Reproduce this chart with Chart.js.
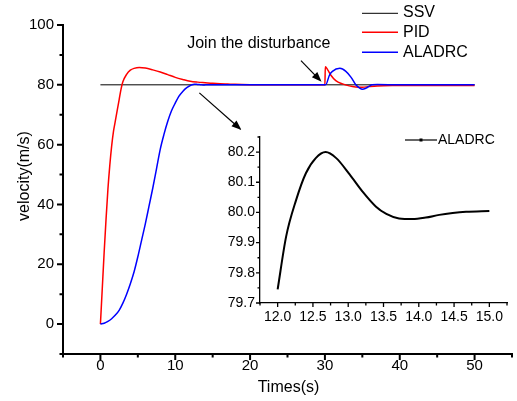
<!DOCTYPE html>
<html><head><meta charset="utf-8">
<script src="https://cdn.jsdelivr.net/npm/chart.js@4.4.0/dist/chart.umd.min.js"></script>
<style>
html,body{margin:0;padding:0;background:#fff;}
#wrap{position:relative;width:517px;height:401px;overflow:hidden;}
#main{position:absolute;left:0;top:0;}
#inset{position:absolute;left:200px;top:120px;}
</style></head><body>
<div id="wrap"><canvas id="main" width="517" height="401"></canvas><canvas id="inset" width="317" height="220"></canvas></div>
<script>
// ---------- DATA ----------
const seriesNames = ['SSV', 'PID', 'ALADRC'];
const ssvT = [0, 50];
const ssvV = [80, 80];
const pidT = [0, 0.25, 0.5, 0.75, 1.0, 1.25, 1.5, 1.75, 2.0, 2.25, 2.5, 2.75, 3.0, 3.5, 4.0, 4.5, 5.2, 6, 7, 8, 9, 10, 11, 12, 13, 14, 15, 16, 17, 18, 20, 22, 25, 30, 30.05, 30.35, 30.8, 31.45, 32.35, 33.25, 34.1, 35, 35.9, 37, 39, 42, 46, 50];
const pidV = [0, 12, 24, 35, 45, 53, 59.5, 64.5, 68, 71.5, 75, 78.5, 81, 83.5, 84.9, 85.5, 85.8, 85.6, 85.0, 84.3, 83.4, 82.5, 81.8, 81.2, 80.9, 80.7, 80.5, 80.35, 80.25, 80.15, 80.05, 80.02, 80, 80, 86, 85.1, 83.2, 81.4, 80.3, 79.65, 79.3, 79.2, 79.4, 79.6, 79.75, 79.8, 79.8, 79.8];
const aladrcT = [0, 0.5, 1, 1.5, 2, 2.5, 3, 3.5, 4, 4.5, 5, 5.5, 6, 6.5, 7, 7.5, 8, 8.5, 9, 9.5, 10, 10.5, 11, 11.5, 12, 12.12, 12.26, 12.4, 12.54, 12.68, 12.83, 13.02, 13.2, 13.39, 13.54, 13.72, 13.91, 14.1, 14.29, 14.48, 14.67, 15, 20, 30, 30.1, 30.6, 31, 32, 32.8, 33.5, 34.1, 34.6, 35, 35.5, 35.9, 36.3, 37, 40, 45, 50];
const aladrcV = [0, 0.3, 0.9, 1.8, 3, 4.6, 7, 10, 13.5, 17.5, 22.5, 28, 33.5, 39.5, 45.5, 52, 58.5, 63.5, 67.8, 71.3, 73.9, 76.2, 77.8, 79.0, 79.745, 79.92, 80.04, 80.13, 80.18, 80.2, 80.18, 80.126, 80.07, 80.02, 79.995, 79.98, 79.978, 79.983, 79.992, 79.998, 80.002, 80.005, 80, 80, 80, 83.2, 84.5, 85.5, 84.5, 82.5, 80.1, 79, 78.5, 78.9, 79.5, 80, 80.1, 80, 80, 80];
// inset (zoom of ALADRC, 12..15 s)
const insetName = 'ALADRC';
const insetT = [12.0, 12.12, 12.26, 12.4, 12.54, 12.68, 12.83, 13.02, 13.2, 13.39, 13.54, 13.72, 13.91, 14.1, 14.29, 14.48, 14.67, 15.0];
const insetV = [79.745, 79.92, 80.04, 80.13, 80.18, 80.2, 80.18, 80.126, 80.07, 80.02, 79.995, 79.98, 79.978, 79.983, 79.992, 79.998, 80.002, 80.005];
// ticks
const xTickValues = [0, 10, 20, 30, 40, 50];
const xTickLabels = ['0', '10', '20', '30', '40', '50'];
const xMinorTicks = [-5, 5, 15, 25, 35, 45, 55];
const yTickValues = [0, 20, 40, 60, 80, 100];
const yTickLabels = ['0', '20', '40', '60', '80', '100'];
const yMinorTicks = [-10, 10, 30, 50, 70, 90];
const ixTickValues = [12.0, 12.5, 13.0, 13.5, 14.0, 14.5, 15.0];
const ixTickLabels = ['12.0', '12.5', '13.0', '13.5', '14.0', '14.5', '15.0'];
const ixMinorTicks = [11.75, 12.25, 12.75, 13.25, 13.75, 14.25, 14.75, 15.25];
const iyTickValues = [79.7, 79.8, 79.9, 80.0, 80.1, 80.2];
const iyTickLabels = ['79.7', '79.8', '79.9', '80.0', '80.1', '80.2'];
const iyMinorTicks = [79.75, 79.85, 79.95, 80.05, 80.15, 80.25];
const xTitle = 'Times(s)';
const yTitle = 'velocity(m/s)';
const annotationText = 'Join the disturbance';

// ---------- helpers ----------
const FONT = "'Liberation Sans', Arial, Helvetica, sans-serif";
const pts = (T, V) => T.map((t, i) => ({x: t, y: V[i]}));
function labelFor(values, labels) {
  return (v) => { const i = values.findIndex(a => Math.abs(a - v) < 1e-9); return i >= 0 ? labels[i] : ''; };
}
function drawTickMarks(ctx, scale, values, len, lw) {
  ctx.save(); ctx.strokeStyle = '#000'; ctx.lineWidth = lw; ctx.beginPath();
  values.forEach(v => {
    const p = scale.getPixelForValue(v);
    if (scale.isHorizontal()) { ctx.moveTo(p, scale.top); ctx.lineTo(p, scale.top + len); }
    else { ctx.moveTo(scale.right, p); ctx.lineTo(scale.right - len, p); }
  });
  ctx.stroke(); ctx.restore();
}
function arrow(ctx, x1, y1, x2, y2, head) {
  const a = Math.atan2(y2 - y1, x2 - x1);
  ctx.save(); ctx.strokeStyle = '#000'; ctx.fillStyle = '#000'; ctx.lineWidth = 1.2;
  ctx.beginPath(); ctx.moveTo(x1, y1); ctx.lineTo(x2 - head * 0.8 * Math.cos(a), y2 - head * 0.8 * Math.sin(a)); ctx.stroke();
  ctx.beginPath(); ctx.moveTo(x2, y2);
  ctx.lineTo(x2 - head * Math.cos(a) + head * 0.38 * Math.sin(a), y2 - head * Math.sin(a) - head * 0.38 * Math.cos(a));
  ctx.lineTo(x2 - head * Math.cos(a) - head * 0.38 * Math.sin(a), y2 - head * Math.sin(a) + head * 0.38 * Math.cos(a));
  ctx.closePath(); ctx.fill(); ctx.restore();
}

// ---------- main chart ----------
const mainDecor = {
  id: 'mainDecor',
  afterDraw(chart) {
    const ctx = chart.ctx, xs = chart.scales.x, ys = chart.scales.y;
    drawTickMarks(ctx, xs, xTickValues, 6, 2);
    drawTickMarks(ctx, xs, xMinorTicks, 3.5, 2);
    drawTickMarks(ctx, ys, yTickValues, 6, 2);
    drawTickMarks(ctx, ys, yMinorTicks, 3.5, 2);
    // axis titles
    ctx.save(); ctx.fillStyle = '#000'; ctx.font = '16px ' + FONT;
    ctx.textAlign = 'center'; ctx.textBaseline = 'middle';
    ctx.fillText(xTitle, (xs.left + xs.right) / 2 + 1, 388);
    ctx.translate(25, 176); ctx.rotate(-Math.PI / 2); ctx.fillText(yTitle, 0, 0);
    ctx.restore();
    // legend
    const cols = ['#000000', '#ff0000', '#0000ff'];
    const lineY = [13.3, 32.3, 52.3], textY = [12.5, 32.7, 52.7];
    ctx.save(); ctx.font = '16px ' + FONT; ctx.textBaseline = 'middle'; ctx.textAlign = 'left'; ctx.fillStyle = '#000';
    seriesNames.forEach((n, i) => {
      ctx.strokeStyle = cols[i]; ctx.lineWidth = i === 0 ? 1 : 1.5;
      ctx.beginPath(); ctx.moveTo(362, lineY[i]); ctx.lineTo(398, lineY[i]); ctx.stroke();
      ctx.fillText(n, 403, textY[i]);
    });
    // annotation
    ctx.fillText(annotationText, xs.getPixelForValue(11.6), ys.getPixelForValue(93.8));
    ctx.restore();
    arrow(ctx, xs.getPixelForValue(13.22), ys.getPixelForValue(77.3), xs.getPixelForValue(18.85), ys.getPixelForValue(64.9), 10);
    arrow(ctx, xs.getPixelForValue(26.8), ys.getPixelForValue(88.1), xs.getPixelForValue(29.55), ys.getPixelForValue(81.0), 10);
  }
};

const lineDs = (label, T, V, color, w) => ({label, data: pts(T, V), borderColor: color, backgroundColor: color, borderWidth: w, pointRadius: 0, fill: false, cubicInterpolationMode: 'monotone'});

new Chart(document.getElementById('main'), {
  type: 'line',
  data: {datasets: [
    lineDs(seriesNames[2], aladrcT, aladrcV, '#0000ff', 1.5),
    lineDs(seriesNames[1], pidT, pidV, '#ff0000', 1.5),
    lineDs(seriesNames[0], ssvT, ssvV, '#000000', 1)
  ]},
  options: {
    responsive: false, animation: false, devicePixelRatio: 1,
    layout: {padding: {left: 0, top: 25, right: 5, bottom: 0}},
    plugins: {legend: {display: false}, tooltip: {enabled: false}},
    scales: {
      x: {type: 'linear', min: -5, max: 55,
        afterBuildTicks: s => { s.ticks = xTickValues.map(v => ({value: v})); },
        afterFit: s => { s.height = 47; },
        ticks: {autoSkip: false, maxRotation: 0, padding: 0, color: '#000', font: {family: FONT, size: 15}, callback: labelFor(xTickValues, xTickLabels)},
        grid: {display: true, drawOnChartArea: false, drawTicks: true, tickLength: 3, color: 'rgba(0,0,0,0)'},
        border: {display: true, color: '#000', width: 2}},
      y: {type: 'linear', min: -10, max: 100,
        afterBuildTicks: s => { s.ticks = yTickValues.map(v => ({value: v})); },
        afterFit: s => { s.width = 63; },
        ticks: {autoSkip: false, padding: 3, color: '#000', font: {family: FONT, size: 15}, callback: labelFor(yTickValues, yTickLabels)},
        grid: {display: true, drawOnChartArea: false, drawTicks: true, tickLength: 6, color: 'rgba(0,0,0,0)'},
        border: {display: true, color: '#000', width: 2}}
    }
  },
  plugins: [mainDecor]
});

// ---------- inset chart ----------
const insetDecor = {
  id: 'insetDecor',
  afterDraw(chart) {
    const ctx = chart.ctx, xs = chart.scales.x, ys = chart.scales.y;
    drawTickMarks(ctx, xs, ixTickValues, 4, 1.3);
    drawTickMarks(ctx, xs, ixMinorTicks, 2.5, 1.3);
    drawTickMarks(ctx, ys, iyTickValues, 4, 1.3);
    drawTickMarks(ctx, ys, iyMinorTicks, 2.5, 1.3);
    // legend
    ctx.save(); ctx.strokeStyle = '#000'; ctx.fillStyle = '#000'; ctx.lineWidth = 1.2;
    ctx.beginPath(); ctx.moveTo(205, 20); ctx.lineTo(237, 20); ctx.stroke();
    ctx.fillRect(219.5, 18.5, 3, 3);
    ctx.font = '14px ' + FONT; ctx.textBaseline = 'middle'; ctx.textAlign = 'left';
    ctx.fillText(insetName, 238, 20.5);
    ctx.restore();
  }
};

new Chart(document.getElementById('inset'), {
  type: 'line',
  data: {datasets: [lineDs(insetName, insetT, insetV, '#000000', 2)]},
  options: {
    responsive: false, animation: false, devicePixelRatio: 1,
    layout: {padding: {left: 0, top: 17, right: 10, bottom: 0}},
    plugins: {legend: {display: false}, tooltip: {enabled: false}},
    scales: {
      x: {type: 'linear', min: 11.75, max: 15.25,
        afterBuildTicks: s => { s.ticks = ixTickValues.map(v => ({value: v})); },
        afterFit: s => { s.height = 37; },
        ticks: {autoSkip: false, maxRotation: 0, padding: 2, color: '#000', font: {family: FONT, size: 14}, callback: labelFor(ixTickValues, ixTickLabels)},
        grid: {display: true, drawOnChartArea: false, drawTicks: true, tickLength: 4, color: 'rgba(0,0,0,0)'},
        border: {display: true, color: '#000', width: 1.3}},
      y: {type: 'linear', min: 79.7, max: 80.25,
        afterBuildTicks: s => { s.ticks = iyTickValues.map(v => ({value: v})); },
        afterFit: s => { s.width = 60; },
        ticks: {autoSkip: false, padding: 1, color: '#000', font: {family: FONT, size: 14}, callback: labelFor(iyTickValues, iyTickLabels)},
        grid: {display: true, drawOnChartArea: false, drawTicks: true, tickLength: 4, color: 'rgba(0,0,0,0)'},
        border: {display: true, color: '#000', width: 1.3}}
    }
  },
  plugins: [insetDecor]
});
</script>
</body></html>
